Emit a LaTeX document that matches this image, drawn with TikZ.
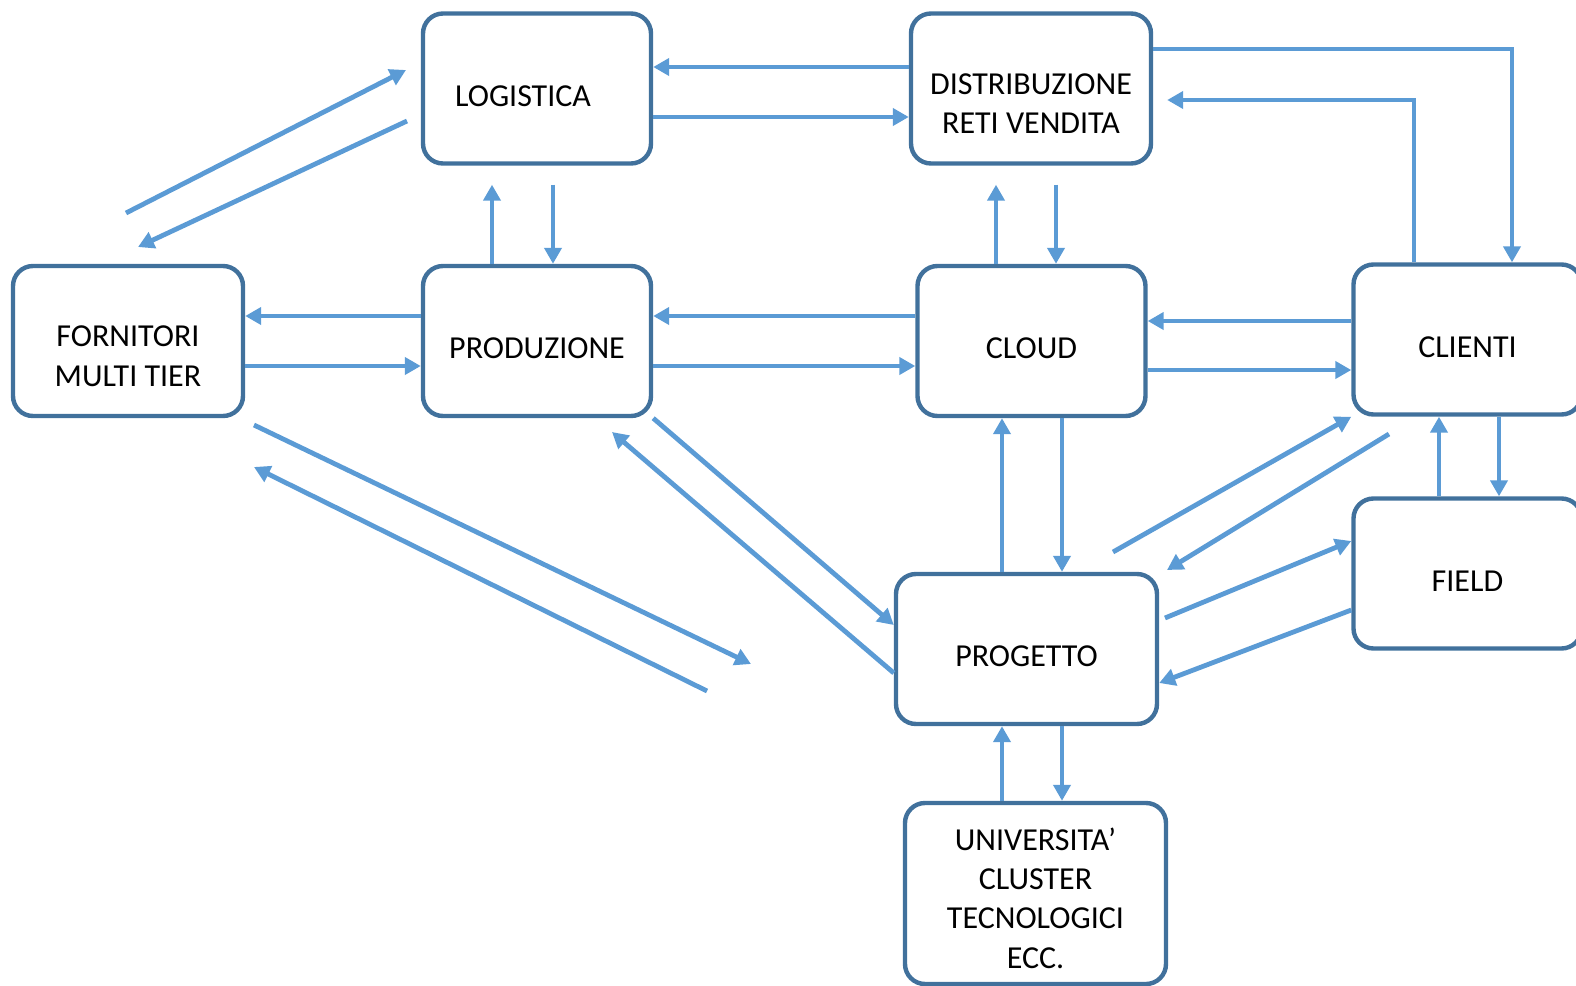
\documentclass[tikz,border=0pt]{standalone}
\usepackage{fontspec}
\setmainfont{Carlito}
\usetikzlibrary{arrows.meta}
\definecolor{boxblue}{HTML}{41719C}
\definecolor{arrowblue}{HTML}{5B9BD5}
\begin{document}
\begin{tikzpicture}
  [x=0.5pt,y=-0.5pt,
   every node/.style={draw=boxblue,line width=2.2pt,rounded corners=10pt,fill=white,
     minimum width=114pt,minimum height=75pt,align=center,
     font=\fontsize{16}{19.6}\selectfont,text height=17.9pt,text depth=0pt},
   arr/.style={draw=arrowblue,line width=2.4pt,-{Triangle[length=8pt,width=8.5pt]}}]
  \clip (0,0) rectangle (1576,986);
  \node (log) at (537,88.5) {LOGISTICA\hspace*{14pt}};
  \node[minimum width=120pt,text height=45pt] (dist) at (1031,88.5) {DISTRIBUZIONE\\RETI VENDITA};
  \node[minimum width=115pt,text height=45pt] (forn) at (128,341) {FORNITORI\\MULTI TIER};
  \node (prod) at (537,341) {PRODUZIONE};
  \node (cloud) at (1031.5,341) {CLOUD};
  \node (cli) at (1467.5,339.5) {CLIENTI};
  \node (field) at (1467.5,573.5) {FIELD};
  \node[minimum width=130.5pt] (prog) at (1026.5,649) {PROGETTO};
  \node[minimum width=130.5pt,minimum height=90.5pt,text height=74.5pt] (univ) at (1035.5,893.5)
    {UNIVERSITA'\\CLUSTER\\TECNOLOGICI\\ECC.};

  \coordinate (fl1) at (126,213);
  \coordinate (fl2) at (406,70);
  \coordinate (fl3) at (407,121);
  \coordinate (fl4) at (138,247);
  \coordinate (fp1) at (254,425);
  \coordinate (fp2) at (751,664);
  \coordinate (fp3) at (707,691);
  \coordinate (fp4) at (254,467);
  \coordinate (pp1) at (612,432);
  \coordinate (pc1) at (1113,552);
  \coordinate (pc2) at (1389,434);
  \coordinate (pc3) at (1167,570);
  \coordinate (pf1) at (1165,618);

  \foreach \from/\to/\y in {dist.west/log.east/67, log.east/dist.west/117,
      prod.west/forn.east/316, forn.east/prod.west/366,
      cloud.west/prod.east/316, prod.east/cloud.west/366,
      cli.west/cloud.east/321, cloud.east/cli.west/370}
    \draw[arr] (\from |- 0,\y) -- (\to |- 0,\y);

  \foreach \x/\from/\to in {1002/prog.north/cloud.south, 1062/cloud.south/prog.north,
      1002/univ.north/prog.south, 1062/prog.south/univ.north,
      1439/field.north/cli.south, 1499/cli.south/field.north}
    \draw[arr] (\x,0 |- \from) -- (\x,0 |- \to);

  \foreach \x/\from/\to in {492/prod.north/log.south, 996/cloud.north/dist.south}
    \draw[arr,shorten >=9.5pt] (\x,0 |- \from) -- (\x,0 |- \to);
  \foreach \x/\from/\to in {553/log.south/prod.north, 1056/dist.south/cloud.north}
    \draw[arr,shorten <=9.5pt] (\x,0 |- \from) -- (\x,0 |- \to);

  \foreach \from/\to in {fl1/fl2, fl3/fl4, fp1/fp2, fp3/fp4, pc1/cli.south west, pc2/pc3}
    \draw[arr] (\from) -- (\to);

  \draw[arr] (prod.south east) -- (prog.west |- 0,625);
  \draw[arr] (prog.west |- 0,673) -- (pp1);
  \draw[arr] (pf1) -- (field.west |- 0,541);
  \draw[arr] (field.west |- 0,610) -- (prog.east |- 0,683);
  \draw[arr] (dist.east |- 0,49) -| (1512,0 |- cli.north);
  \draw[arr,shorten >=7pt] (1414,0 |- cli.north) |- (dist.east |- 0,100);
\end{tikzpicture}
\end{document}
